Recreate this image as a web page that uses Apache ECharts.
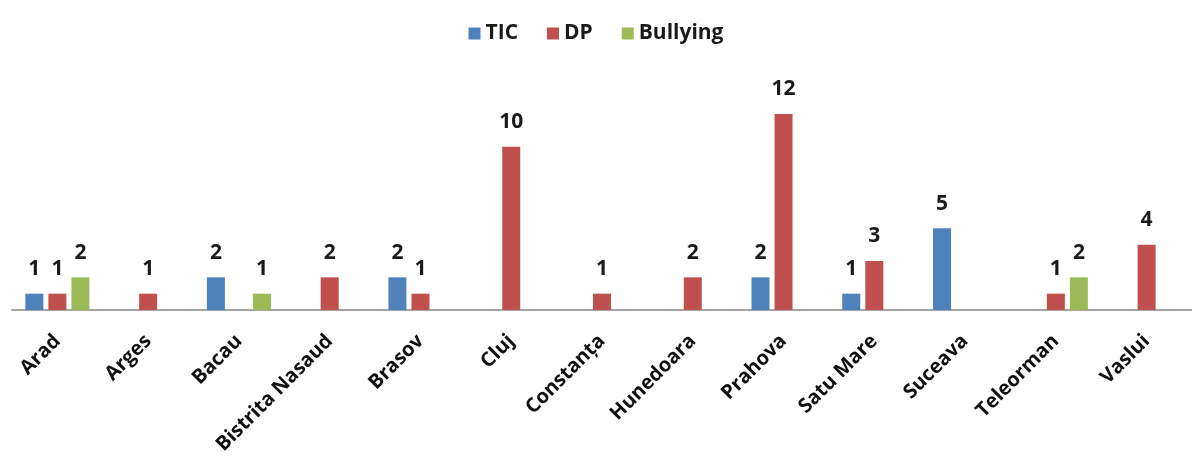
<!DOCTYPE html>
<html>
<head>
<meta charset="utf-8">
<script src="https://cdn.jsdelivr.net/npm/echarts@6/dist/echarts.min.js"></script>
<style>
  html, body { margin: 0; padding: 0; background: #fff; }
  #chart { width: 1192px; height: 458px; }
</style>
</head>
<body>
<div id="chart"></div>
<script>
const counties = ["Arad", "Arges", "Bacau", "Bistrita Nasaud", "Brasov", "Cluj", "Constanța", "Hunedoara", "Prahova", "Satu Mare", "Suceava", "Teleorman", "Vaslui"];
const ticData = [1, null, 2, null, 2, null, null, null, 2, 1, 5, null, null];
const dpData = [1, 1, null, 2, 1, 10, 1, 2, 12, 3, null, 1, 4];
const bullyingData = [2, null, 1, null, null, null, null, null, null, null, null, 2, null];

const colors = {
  tic: "#4F81BD",
  dp: "#C0504D",
  bullying: "#9BBB59",
};

const font = "'Open Sans', 'DejaVu Sans', sans-serif";

const chart = echarts.init(document.getElementById("chart"));

const makeSeries = (name, data, color) => ({
  name: name,
  type: "bar",
  data: data,
  barWidth: 18,
  barGap: "28%",
  itemStyle: { color: color },
  label: {
    show: true,
    position: "top",
    distance: 14,
    color: "#1a1a1a",
    fontSize: 21,
    fontWeight: "bold",
    fontFamily: font,
  },
});

const option = {
  backgroundColor: "#fff",
  animation: false,
  legend: {
    top: 18,
    left: "center",
    itemWidth: 12,
    itemHeight: 12,
    itemGap: 29,
    icon: "rect",
    textStyle: {
      color: "#1a1a1a",
      fontSize: 21,
      fontWeight: "bold",
      fontFamily: font,
    },
  },
  grid: {
    left: 12,
    right: 0,
    top: 114,
    bottom: 148,
  },
  xAxis: {
    type: "category",
    data: counties,
    axisLine: { lineStyle: { color: "#888", width: 1.5 } },
    axisTick: { show: false },
    axisLabel: {
      rotate: 45,
      interval: 0,
      margin: 28,
      color: "#111",
      fontSize: 20,
      fontWeight: "bold",
      fontFamily: font,
    },
  },
  yAxis: {
    type: "value",
    min: 0,
    max: 12,
    show: false,
  },
  series: [
    makeSeries("TIC", ticData, colors.tic),
    makeSeries("DP", dpData, colors.dp),
    makeSeries("Bullying", bullyingData, colors.bullying),
  ],
};

chart.setOption(option);
</script>
</body>
</html>
